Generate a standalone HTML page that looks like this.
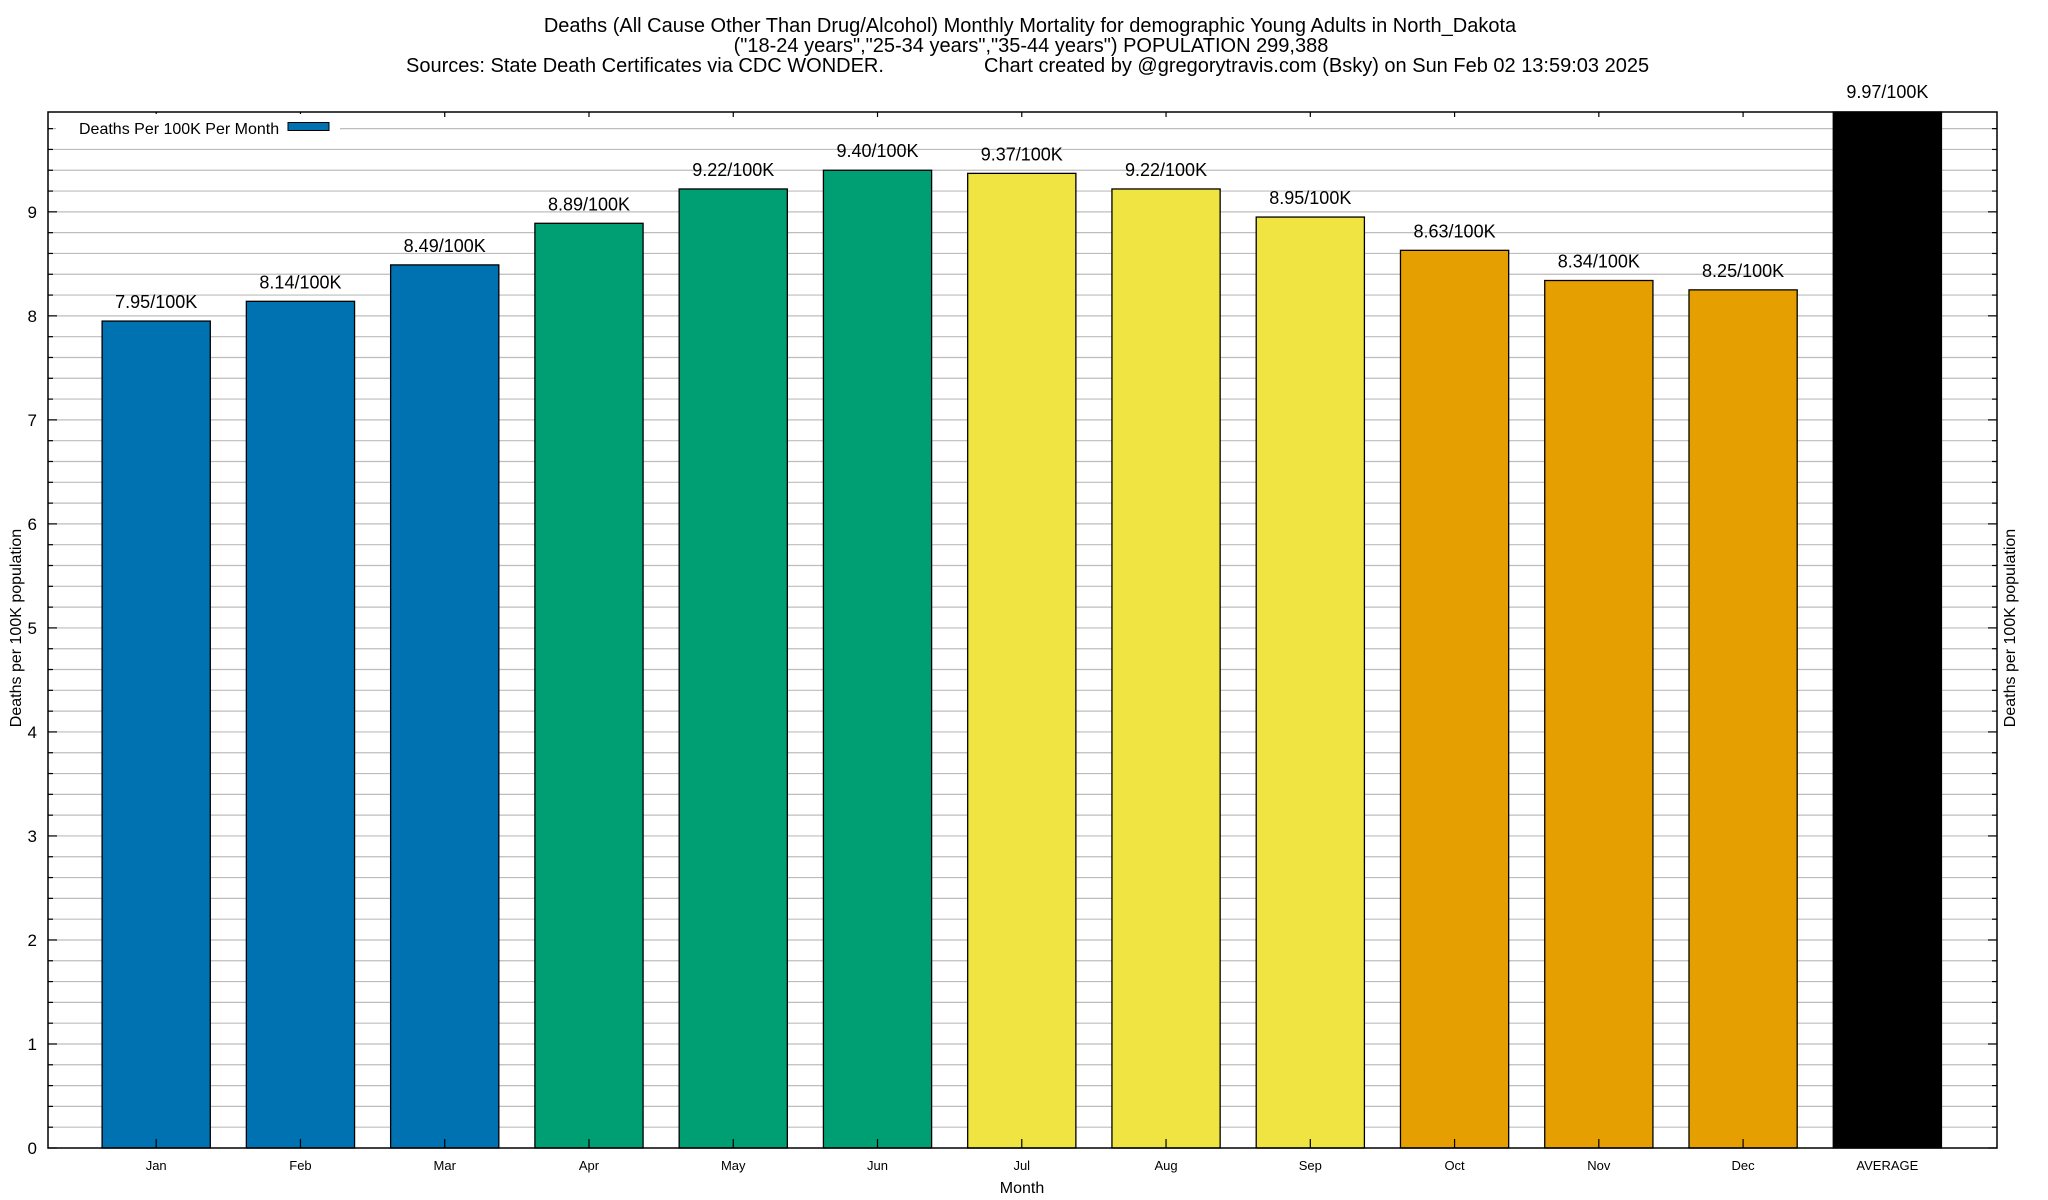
<!DOCTYPE html>
<html><head><meta charset="utf-8"><style>
html,body{margin:0;padding:0;background:#fff;}
svg{display:block;font-family:"Liberation Sans",sans-serif;}
</style></head><body>
<svg id="chart" width="2048" height="1200" viewBox="0 0 2048 1200">
<g font-size="20" fill="#000" text-anchor="middle">
<text x="1030" y="32">Deaths (All Cause Other Than Drug/Alcohol) Monthly Mortality for demographic Young Adults in North_Dakota</text>
<text x="1031" y="52">("18-24 years","25-34 years","35-44 years") POPULATION 299,388</text>
<text x="406" y="72" text-anchor="start">Sources: State Death Certificates via CDC WONDER.</text>
<text x="984" y="72" text-anchor="start">Chart created by @gregorytravis.com (Bsky) on Sun Feb 02 13:59:03 2025</text>
</g>
<g id="grid"></g>
<g id="bars"></g>
<g id="axes"></g>
<text x="0" y="0" transform="translate(21,628) rotate(-90)" text-anchor="middle" font-size="16">Deaths per 100K population</text>
<text x="0" y="0" transform="translate(2015,628) rotate(-90)" text-anchor="middle" font-size="16">Deaths per 100K population</text>
<text x="1022" y="1193" text-anchor="middle" font-size="16">Month</text>
<g>
<rect x="56" y="114" width="284" height="26" fill="#fff"/>
<text x="79" y="134" font-size="16">Deaths Per 100K Per Month</text>
<rect x="288" y="122.5" width="41" height="8" fill="#0072b2" stroke="#000" stroke-width="1"/>
</g>
</svg>
<script>
const categories = ["Jan","Feb","Mar","Apr","May","Jun","Jul","Aug","Sep","Oct","Nov","Dec","AVERAGE"];
const values = [7.95,8.14,8.49,8.89,9.22,9.40,9.37,9.22,8.95,8.63,8.34,8.25,9.97];
const barColors = ["#0072b2","#0072b2","#0072b2","#009e73","#009e73","#009e73","#f0e442","#f0e442","#f0e442","#e69f00","#e69f00","#e69f00","#000000"];
const yTicks = [0,1,2,3,4,5,6,7,8,9];

const NS = "http://www.w3.org/2000/svg";
const L = 48, R = 1997, T = 112, B = 1148;
const xMin = -0.75, xMax = 12.76, yMin = 0, yMax = 9.96;
const xs = v => L + (v - xMin) / (xMax - xMin) * (R - L);
const ys = v => B - (v - yMin) / (yMax - yMin) * (B - T);
function mk(tag, attrs, parent){const e=document.createElementNS(NS,tag);for(const k in attrs)e.setAttribute(k,attrs[k]);parent.appendChild(e);return e;}

const grid = document.getElementById('grid');
for (let i = 1; i * 0.2 < yMax; i++) {
  const y = ys(i * 0.2);
  const g = mk('line',{x1:L,x2:R,y1:y,y2:y,stroke:'#bdbdbd','stroke-width':1.2},grid);
  
  
}

const bars = document.getElementById('bars');
const bw = 0.75;
categories.forEach((c, i) => {
  const v = values[i];
  const top = Math.max(ys(v), T);
  const x0 = xs(i - bw / 2), x1 = xs(i + bw / 2);
  const r = mk('rect',{x:x0,y:top,width:x1-x0,height:B-top,fill:barColors[i],stroke:'#000','stroke-width':1.3},bars);
  
  
  const t = mk('text',{x:xs(i),y:ys(v)-13,'text-anchor':'middle','font-size':18},bars);
  t.textContent = v.toFixed(2) + '/100K';
  
  
  const xl = mk('text',{x:xs(i),y:1170,'text-anchor':'middle','font-size':13},bars);
  xl.textContent = c;
  
  
});

const axes = document.getElementById('axes');
const frame = mk('rect',{x:L,y:T,width:R-L,height:B-T,fill:'none',stroke:'#000','stroke-width':1.5},axes);


for (let i = 0; i * 0.2 < yMax; i++) {
  const v = i * 0.2, y = ys(v);
  const major = i % 5 === 0;
  const len = major ? 9 : 5;
  mk('line',{x1:L,x2:L+len,y1:y,y2:y,stroke:'#000','stroke-width':1.2},axes);
  mk('line',{x1:R-len,x2:R,y1:y,y2:y,stroke:'#000','stroke-width':1.2},axes);
}
yTicks.forEach(v => {
  const t = mk('text',{x:37,y:ys(v)+6,'text-anchor':'end','font-size':17},axes);
  t.textContent = v;
  
  
});
categories.forEach((c, i) => {
  const x = xs(i);
  mk('line',{x1:x,x2:x,y1:B,y2:B-9,stroke:'#000','stroke-width':1.2},axes);
  mk('line',{x1:x,x2:x,y1:T,y2:T+5,stroke:'#000','stroke-width':1.2},axes);
});
</script>
</body></html>
